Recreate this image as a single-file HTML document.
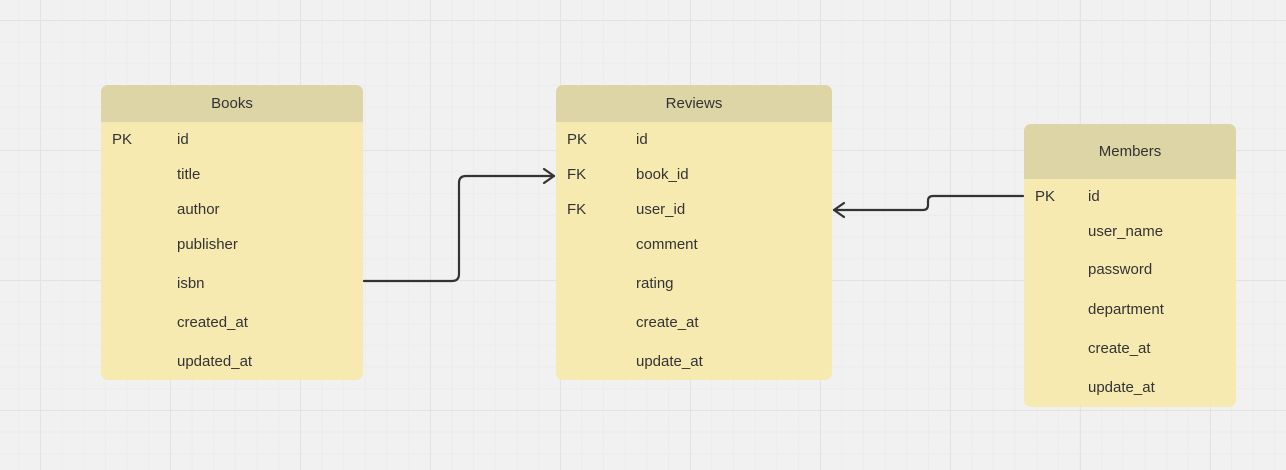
<!DOCTYPE html>
<html><head><meta charset="utf-8"><style>
body{margin:0;width:1286px;height:470px;overflow:hidden;background:#f1f1f1;font-family:"Liberation Sans",sans-serif;position:relative;
background-image:linear-gradient(#e3e3e3 1px,transparent 1px),linear-gradient(90deg,#e3e3e3 1px,transparent 1px),linear-gradient(#ececec 1px,transparent 1px),linear-gradient(90deg,#ececec 1px,transparent 1px);
background-size:130px 130px,130px 130px,21.67px 21.67px,21.67px 21.67px;background-position:40px 20px,40px 20px,40px 20px,40px 20px}
.t{position:absolute;background:rgba(247,233,170,0.9);border-radius:7px;overflow:hidden}
.h{background:#ddd5a6;text-align:center;color:#333;font-size:15px}
.r{position:absolute;font-size:15px;color:#333;line-height:18px;margin-top:2px}
svg{position:absolute;left:0;top:0}
</style></head><body>
<div class="t" style="left:101px;top:85px;width:262px;height:295px"><div class="h" style="height:37px;line-height:37px">Books</div></div>
<div class="t" style="left:556px;top:85px;width:276px;height:295px"><div class="h" style="height:37px;line-height:37px">Reviews</div></div>
<div class="t" style="left:1024px;top:124px;width:212px;height:283px"><div class="h" style="height:55px;line-height:55px">Members</div></div>

<div class="r" style="left:112px;top:129px">PK</div>
<div class="r" style="left:177px;top:129px">id</div>
<div class="r" style="left:177px;top:164px">title</div>
<div class="r" style="left:177px;top:199px">author</div>
<div class="r" style="left:177px;top:234px">publisher</div>
<div class="r" style="left:177px;top:273px">isbn</div>
<div class="r" style="left:177px;top:312px">created_at</div>
<div class="r" style="left:177px;top:351px">updated_at</div>

<div class="r" style="left:567px;top:129px">PK</div>
<div class="r" style="left:567px;top:164px">FK</div>
<div class="r" style="left:567px;top:199px">FK</div>
<div class="r" style="left:636px;top:129px">id</div>
<div class="r" style="left:636px;top:164px">book_id</div>
<div class="r" style="left:636px;top:199px">user_id</div>
<div class="r" style="left:636px;top:234px">comment</div>
<div class="r" style="left:636px;top:273px">rating</div>
<div class="r" style="left:636px;top:312px">create_at</div>
<div class="r" style="left:636px;top:351px">update_at</div>

<div class="r" style="left:1035px;top:186px">PK</div>
<div class="r" style="left:1088px;top:186px">id</div>
<div class="r" style="left:1088px;top:221px">user_name</div>
<div class="r" style="left:1088px;top:259px">password</div>
<div class="r" style="left:1088px;top:299px">department</div>
<div class="r" style="left:1088px;top:338px">create_at</div>
<div class="r" style="left:1088px;top:377px">update_at</div>

<svg width="1286" height="470" fill="none" stroke="#333" stroke-width="2.2" stroke-linecap="round" stroke-linejoin="round">
<path d="M364 281 H452 Q459 281 459 274 V183 Q459 176 466 176 H554"/>
<path d="M544 169 L554 176 L544 183"/>
<path d="M1023 196 H933 Q928 196 928 201 V205 Q928 210 923 210 H834"/>
<path d="M844 203 L834 210 L844 217"/>
</svg>
</body></html>
